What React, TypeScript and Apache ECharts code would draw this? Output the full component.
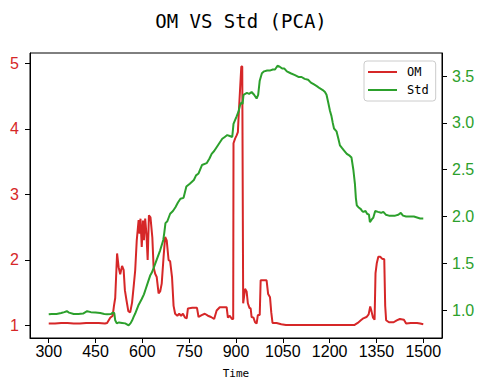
import React, { useEffect, useRef } from 'react';
import * as echarts from 'echarts';

const omTime = [300,320,340,360,380,400,420,440,460,480,487,497,505,509,513,519,524,529,535,540,544,549,555,561,567,572,577,582,588,591,594,598,602,605,609,613,617,621,626,632,636,641,646,652,657,662,668,673,678,684,689,695,700,705,712,718,724,730,737,742,746,760,775,780,790,800,810,820,830,838,848,860,870,874,880,887,891,892,897,902,906,909,913,917,920,923,929,934,938,943,947,950,956,961,966,970,976,979,998,1003,1009,1013,1017,1030,1045,1060,1150,1280,1290,1300,1308,1318,1325,1330,1334,1339,1344,1347,1351,1356,1362,1368,1375,1378,1381,1390,1405,1415,1425,1438,1445,1460,1480,1490,1500];
const omValues = [1.03,1.03,1.04,1.04,1.03,1.03,1.04,1.04,1.04,1.03,1.04,1.12,1.15,1.30,1.42,2.10,1.89,1.78,1.91,1.85,1.54,1.39,1.22,1.20,1.35,1.59,1.84,2.30,2.61,2.40,2.63,2.20,2.60,2.30,2.63,2.40,2.00,2.68,2.65,2.34,1.89,1.79,1.74,1.49,1.52,1.64,2.05,2.35,2.30,2.00,1.98,1.74,1.30,1.18,1.15,1.18,1.15,1.18,1.12,1.11,1.26,1.27,1.27,1.13,1.16,1.18,1.15,1.13,1.10,1.23,1.28,1.28,1.28,1.12,1.15,1.10,1.10,3.78,3.85,3.90,3.95,4.25,4.60,4.95,4.95,1.34,1.56,1.52,1.34,1.27,1.26,1.13,1.12,1.05,1.03,1.16,1.16,1.69,1.69,1.48,1.43,1.20,1.04,1.04,1.02,1.01,1.01,1.01,1.04,1.08,1.11,1.13,1.17,1.29,1.22,1.12,1.09,1.80,1.95,2.05,2.05,2.02,2.01,1.30,1.08,1.05,1.05,1.08,1.10,1.09,1.03,1.04,1.04,1.03,1.02];

const stdTime = [300,310,325,340,350,358,365,380,395,410,423,435,450,465,478,487,500,505,510,513,518,525,535,545,556,562,567,572,577,587,598,605,611,618,625,630,636,646,657,667,670,674,680,689,698,706,714,722,732,741,752,765,772,780,791,806,815,822,830,838,848,856,864,872,880,888,892,902,908,913,918,921,924,935,942,950,958,966,971,976,983,990,1000,1010,1018,1025,1033,1040,1048,1055,1063,1075,1089,1100,1110,1120,1131,1140,1150,1160,1168,1178,1185,1190,1196,1201,1206,1210,1214,1222,1228,1233,1240,1245,1255,1264,1270,1276,1281,1284,1287,1292,1300,1304,1308,1315,1320,1326,1329,1335,1340,1346,1355,1365,1372,1380,1390,1400,1410,1420,1428,1435,1445,1460,1470,1480,1490,1500];
const stdValues = [0.957,0.96,0.96,0.97,0.98,0.99,0.975,0.96,0.96,0.965,0.99,0.98,0.975,0.97,0.96,0.957,0.96,0.975,0.97,0.893,0.86,0.87,0.865,0.86,0.84,0.86,0.89,0.93,0.965,1.05,1.12,1.17,1.23,1.30,1.37,1.40,1.45,1.54,1.64,1.75,1.82,1.93,1.95,2.03,2.06,2.10,2.15,2.19,2.20,2.32,2.35,2.39,2.44,2.46,2.55,2.57,2.62,2.67,2.70,2.74,2.79,2.83,2.85,2.87,2.86,2.85,2.99,3.07,3.12,3.19,3.22,3.20,3.30,3.32,3.31,3.33,3.30,3.26,3.30,3.45,3.53,3.55,3.56,3.56,3.57,3.57,3.61,3.60,3.58,3.58,3.55,3.53,3.51,3.49,3.49,3.47,3.46,3.43,3.41,3.39,3.37,3.35,3.33,3.30,3.21,3.13,3.07,3.00,2.94,2.91,2.83,2.76,2.73,2.71,2.67,2.65,2.63,2.50,2.35,2.20,2.12,2.10,2.08,2.06,2.05,2.06,2.03,2.02,1.94,1.97,1.99,2.06,2.05,2.04,2.05,2.02,2.01,2.01,2.01,2.02,2.04,2.01,2.00,2.00,2.00,1.99,1.98,1.98];

const xTicks = [300, 450, 600, 750, 900, 1050, 1200, 1350, 1500];
const omTicks = [1, 2, 3, 4, 5];
const stdTicks = [1.0, 1.5, 2.0, 2.5, 3.0, 3.5];

const RED = '#d62728';
const GREEN = '#2ca02c';

function zip(t: number[], v: number[]) {
  const n = Math.min(t.length, v.length);
  const out: [number, number][] = [];
  for (let i = 0; i < n; i++) out.push([t[i], v[i]]);
  return out;
}

export default function App() {
  const ref = useRef<HTMLDivElement>(null);
  useEffect(() => {
    if (!ref.current) return;
    const chart = echarts.init(ref.current, undefined, { renderer: 'svg' });
    const axisLine = { show: true, lineStyle: { color: '#000', width: 1 } };
    const tick = { show: true, inside: false, length: 5, lineStyle: { color: '#000', width: 1 } };
    chart.setOption({
      animation: false,
      backgroundColor: '#fff',
      title: {
        text: 'OM VS Std (PCA)',
        left: 236,
        top: 6,
        textAlign: 'center',
        textStyle: { fontFamily: 'DejaVu Sans Mono', fontSize: 19, fontWeight: 'normal', color: '#000' },
      },
      legend: {
        orient: 'vertical',
        left: 364,
        top: 61,
        padding: [5, 7, 5, 4],
        itemGap: 6,
        itemWidth: 29,
        itemHeight: 2,
        icon: 'rect',
        backgroundColor: 'rgba(255,255,255,0.8)',
        borderColor: '#cccccc',
        borderWidth: 1,
        borderRadius: 3,
        textStyle: { fontFamily: 'DejaVu Sans Mono', fontSize: 12, color: '#000', padding: [0, 0, 0, 5] },
        data: ['OM', 'Std'],
      },
      grid: { left: 30, right: 48, top: 53, bottom: 52, show: true, borderColor: '#000', borderWidth: 1, containLabel: false },
      xAxis: {
        type: 'value',
        min: 240,
        max: 1560,
        name: 'Time',
        nameLocation: 'middle',
        nameGap: 30,
        nameTextStyle: { fontFamily: 'DejaVu Sans Mono', fontSize: 11, color: '#000' },
        axisLine,
        axisTick: { ...tick, customValues: xTicks },
        axisLabel: {
          customValues: xTicks,
          margin: 5,
          fontFamily: 'Liberation Sans',
          fontSize: 16,
          color: '#000',
          formatter: (v: number) => String(v),
        },
        splitLine: { show: false },
      },
      yAxis: [
        {
          type: 'value',
          min: 0.81,
          max: 5.157,
          position: 'left',
          axisLine,
          axisTick: { ...tick, customValues: omTicks },
          axisLabel: { customValues: omTicks, margin: 11, fontFamily: 'Liberation Sans', fontSize: 16, color: RED },
          splitLine: { show: false },
        },
        {
          type: 'value',
          min: 0.704,
          max: 3.746,
          position: 'right',
          axisLine,
          axisTick: { ...tick, customValues: stdTicks },
          axisLabel: {
            customValues: stdTicks,
            margin: 10,
            fontFamily: 'Liberation Sans',
            fontSize: 16,
            color: GREEN,
            formatter: (v: number) => v.toFixed(1),
          },
          splitLine: { show: false },
        },
      ],
      series: [
        {
          name: 'OM',
          type: 'line',
          yAxisIndex: 0,
          data: zip(omTime, omValues),
          showSymbol: false,
          symbol: 'none',
          lineStyle: { color: RED, width: 2 },
          itemStyle: { color: RED },
        },
        {
          name: 'Std',
          type: 'line',
          yAxisIndex: 1,
          data: zip(stdTime, stdValues),
          showSymbol: false,
          symbol: 'none',
          lineStyle: { color: GREEN, width: 2 },
          itemStyle: { color: GREEN },
        },
      ],
    });
    return () => chart.dispose();
  }, []);
  return <div ref={ref} style={{ position: 'fixed', left: 0, top: 0, width: 490, height: 390 }} />;
}
